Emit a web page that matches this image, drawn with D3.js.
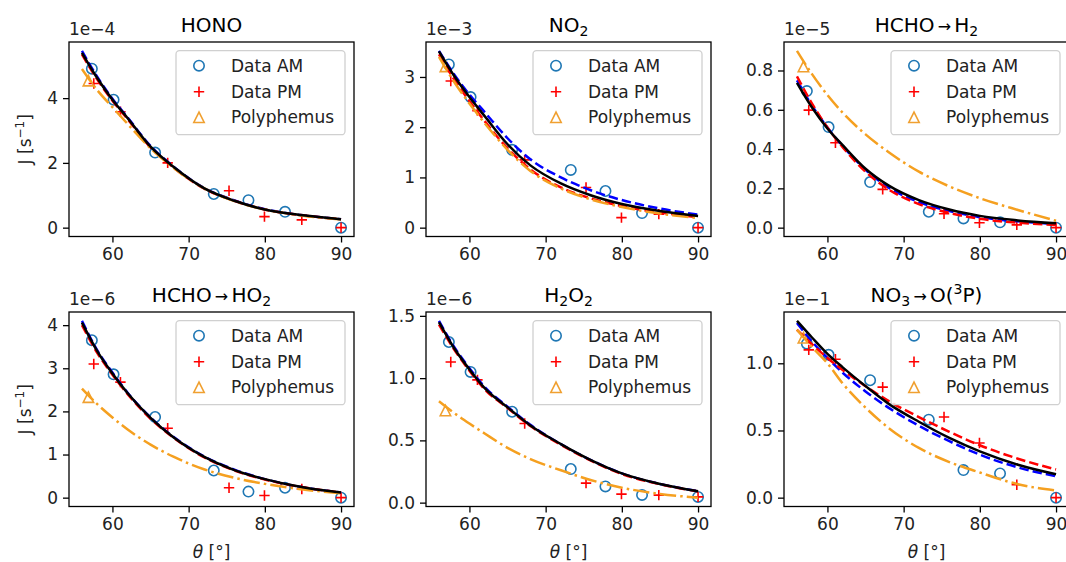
<!DOCTYPE html>
<html><head><meta charset="utf-8">
<script src="https://cdn.jsdelivr.net/npm/d3@7"></script>
<style>
body{margin:0;background:#fff;}
svg{display:block;font-family:"DejaVu Sans",sans-serif;}
</style></head><body>
<svg id="c" width="1066" height="562"></svg>
<script>
// ---------- data ----------
const xAM = [57.3, 60.15, 65.6, 73.3, 77.85, 82.65, 90];
const xPM = [57.55, 61.05, 67.25, 75.3, 79.95, 84.85, 90];
const xPoly = [56.85];
const xFit = [56, 58, 60, 62, 65, 68, 72, 76, 80, 85, 90];

const titles = ["HONO", "NO2", "HCHO→H2", "HCHO→HO2", "H2O2", "NO3→O(3P)"];
const offsets = ["1e−4", "1e−3", "1e−5", "1e−6", "1e−6", "1e−1"];
const yTicks = [
  [0, 2, 4],
  [0, 1, 2, 3],
  [0.0, 0.2, 0.4, 0.6, 0.8],
  [0, 1, 2, 3, 4],
  [0.0, 0.5, 1.0, 1.5],
  [0.0, 0.5, 1.0]
];
const yTickDigits = [0, 0, 1, 0, 1, 1];
const xTicks = [60, 70, 80, 90];

const dataAM = [
  [4.91, 3.95, 2.32, 1.04, 0.85, 0.49, 0],
  [3.25, 2.6, 1.55, 1.15, 0.73, 0.29, 0],
  [0.695, 0.512, 0.232, 0.081, 0.047, 0.027, 0],
  [3.65, 2.86, 1.87, 0.63, 0.14, 0.23, 0],
  [1.29, 1.05, 0.73, 0.27, 0.13, 0.062, 0.046],
  [1.146, 1.063, 0.874, 0.58, 0.205, 0.18, 0]
];
const dataPM = [
  [4.45, 3.58, 2.0, 1.14, 0.34, 0.24, 0],
  [2.92, 2.33, 1.35, 0.8, 0.2, 0.27, 0],
  [0.598, 0.432, 0.195, 0.071, 0.025, 0.014, 0],
  [3.1, 2.68, 1.61, 0.23, 0.05, 0.2, 0],
  [1.13, 0.986, 0.635, 0.157, 0.068, 0.06, 0.046],
  [1.10, 1.03, 0.823, 0.60, 0.407, 0.096, 0]
];
const dataPoly = [[4.54], [3.21], [0.82], [2.33], [0.74], [1.19]];

const fitAM = [
  [5.46, 4.66, 3.98, 3.4, 2.52, 1.89, 1.23, 0.84, 0.57, 0.38, 0.26],
  [3.52, 3.05, 2.65, 2.3, 1.78, 1.36, 1.0, 0.74, 0.55, 0.38, 0.26],
  [0.75, 0.62, 0.51, 0.415, 0.295, 0.205, 0.13, 0.085, 0.053, 0.032, 0.019],
  [4.1, 3.42, 2.9, 2.43, 1.86, 1.41, 0.96, 0.65, 0.43, 0.24, 0.12],
  [1.46, 1.25, 1.08, 0.93, 0.77, 0.625, 0.47, 0.34, 0.235, 0.15, 0.092],
  [1.30, 1.16, 1.04, 0.93, 0.79, 0.67, 0.535, 0.42, 0.32, 0.225, 0.16]
];
const fitPM = [
  [5.35, 4.58, 3.92, 3.35, 2.48, 1.86, 1.21, 0.83, 0.56, 0.38, 0.26],
  [3.45, 2.95, 2.52, 2.12, 1.58, 1.16, 0.80, 0.58, 0.43, 0.3, 0.21],
  [0.77, 0.63, 0.51, 0.41, 0.285, 0.195, 0.12, 0.075, 0.045, 0.025, 0.014],
  [4.0, 3.36, 2.85, 2.4, 1.83, 1.39, 0.94, 0.63, 0.42, 0.24, 0.12],
  [1.43, 1.23, 1.06, 0.91, 0.76, 0.615, 0.465, 0.335, 0.23, 0.148, 0.09],
  [1.25, 1.14, 1.04, 0.95, 0.83, 0.72, 0.6, 0.49, 0.39, 0.29, 0.21]
];
const fitPoly = [
  [4.9, 4.25, 3.72, 3.2, 2.45, 1.85, 1.22, 0.82, 0.56, 0.37, 0.25],
  [3.4, 2.9, 2.47, 2.08, 1.55, 1.13, 0.78, 0.56, 0.41, 0.28, 0.19],
  [0.90, 0.78, 0.675, 0.585, 0.475, 0.385, 0.285, 0.21, 0.15, 0.09, 0.035],
  [2.53, 2.17, 1.86, 1.58, 1.23, 0.95, 0.66, 0.46, 0.32, 0.19, 0.1],
  [0.815, 0.72, 0.635, 0.555, 0.44, 0.35, 0.26, 0.18, 0.12, 0.07, 0.04],
  [1.25, 1.12, 1.0, 0.85, 0.67, 0.52, 0.37, 0.265, 0.187, 0.10, 0.053]
];
const fitAll = [
  [5.40, 4.62, 3.95, 3.38, 2.5, 1.88, 1.22, 0.83, 0.56, 0.38, 0.26],
  [3.51, 3.02, 2.6, 2.22, 1.66, 1.24, 0.88, 0.64, 0.47, 0.33, 0.23],
  [0.737, 0.61, 0.505, 0.42, 0.30, 0.215, 0.14, 0.092, 0.06, 0.037, 0.022],
  [4.06, 3.4, 2.88, 2.42, 1.85, 1.4, 0.95, 0.64, 0.43, 0.24, 0.12],
  [1.45, 1.24, 1.07, 0.92, 0.765, 0.62, 0.47, 0.34, 0.235, 0.15, 0.092],
  [1.316, 1.19, 1.07, 0.97, 0.83, 0.70, 0.565, 0.445, 0.345, 0.245, 0.174]
];
const legendLabels = ["Data AM", "Data PM", "Polyphemus"];

// ---------- layout ----------
const colLeft = [69, 426, 784];
const rowTop = [42, 312];
const W = 285, H = 194.5;
const FS = 17;
const cBlue = "#1f77b4", cRed = "#ff0000", cOrange = "#f5a020", cTri = "#f0a030";

const svg = d3.select("#c");

function drawTitle(g, t, cx, y) {
  const txt = g.append("text").attr("x", cx).attr("y", y).attr("text-anchor", "middle")
    .attr("font-size", 20).attr("fill", "#000");
  const specs = {
    "HONO": [["HONO", 0]],
    "NO2": [["NO", 0], ["2", -1]],
    "HCHO→H2": [["HCHO", 0], ["\u2009→\u2009", 0], ["H", 0], ["2", -1]],
    "HCHO→HO2": [["HCHO", 0], ["\u2009→\u2009", 0], ["HO", 0], ["2", -1]],
    "H2O2": [["H", 0], ["2", -1], ["O", 0], ["2", -1]],
    "NO3→O(3P)": [["NO", 0], ["3", -1], ["\u2009→\u2009", 0], ["O(", 0], ["3", 1], ["P)", 0]]
  }[t];
  let cur = 0;
  specs.forEach(p => {
    const shift = p[1] === -1 ? 4 : p[1] === 1 ? -8 : 0;
    const ts = txt.append("tspan").text(p[0]).attr("dy", shift - cur);
    cur = shift;
    if (p[1] !== 0) ts.attr("font-size", 14);
    if (p[0].includes("→")) ts.attr("font-size", 16);
  });
}

for (let i = 0; i < 6; i++) {
  const col = i % 3, row = Math.floor(i / 3);
  const L = colLeft[col], T = rowTop[row];
  const g = svg.append("g");

  const allY = [].concat(dataAM[i], dataPM[i], dataPoly[i], fitAM[i], fitPM[i], fitPoly[i], fitAll[i]);
  const yMin = d3.min(allY), yMax = d3.max(allY);
  const yPad = (yMax - yMin) * 0.05;
  const xMin = 56, xMax = 90, xPad = (xMax - xMin) * 0.05;

  const x = d3.scaleLinear().domain([xMin - xPad, xMax + xPad]).range([L, L + W]);
  const y = d3.scaleLinear().domain([yMin - yPad, yMax + yPad]).range([T + H, T]);

  const clipId = "clip" + i;
  svg.append("clipPath").attr("id", clipId).append("rect")
    .attr("x", L).attr("y", T).attr("width", W).attr("height", H);

  // axes
  const xAxis = d3.axisBottom(x).tickValues(xTicks).tickSize(6).tickPadding(5).tickFormat(d3.format("d"));
  const gx = g.append("g").attr("transform", `translate(0,${T + H})`).call(xAxis);
  const yAxis = d3.axisLeft(y).tickValues(yTicks[i]).tickSize(6).tickPadding(5)
    .tickFormat(d3.format("." + yTickDigits[i] + "f"));
  const gy = g.append("g").attr("transform", `translate(${L},0)`).call(yAxis);
  [gx, gy].forEach(a => {
    a.select(".domain").remove();
    a.selectAll("line").attr("stroke", "#000").attr("stroke-width", 1.3);
    a.selectAll("text").attr("font-size", FS).attr("fill", "#222").attr("font-family", "DejaVu Sans");
  });

  const plot = g.append("g").attr("clip-path", `url(#${clipId})`);

  // markers
  plot.selectAll(".am").data(xAM.map((v, k) => [v, dataAM[i][k]])).enter().append("circle")
    .attr("cx", d => x(d[0])).attr("cy", d => y(d[1])).attr("r", 5.2)
    .attr("fill", "none").attr("stroke", cBlue).attr("stroke-width", 1.6);
  plot.selectAll(".pm").data(xPM.map((v, k) => [v, dataPM[i][k]])).enter().append("path")
    .attr("transform", d => `translate(${x(d[0])},${y(d[1])})`)
    .attr("d", "M-5.2,0H5.2M0,-5.2V5.2").attr("stroke", cRed).attr("stroke-width", 1.6).attr("fill", "none");
  plot.selectAll(".poly").data(xPoly.map((v, k) => [v, dataPoly[i][k]])).enter().append("path")
    .attr("transform", d => `translate(${x(d[0])},${y(d[1])})`)
    .attr("d", "M0,-5.2L-5.2,5.2L5.2,5.2Z").attr("stroke", cTri).attr("stroke-width", 1.6).attr("fill", "none");

  // lines
  const line = d3.line().x(d => x(d[0])).y(d => y(d[1])).curve(d3.curveMonotoneX);
  const mk = arr => xFit.map((v, k) => [v, arr[k]]);
  plot.append("path").attr("d", line(mk(fitAM[i]))).attr("fill", "none")
    .attr("stroke", "#0000ff").attr("stroke-width", 2.5).attr("stroke-dasharray", "9.4,4.1");
  plot.append("path").attr("d", line(mk(fitPM[i]))).attr("fill", "none")
    .attr("stroke", "#ff0000").attr("stroke-width", 2.5).attr("stroke-dasharray", "9.4,4.1");
  plot.append("path").attr("d", line(mk(fitPoly[i]))).attr("fill", "none")
    .attr("stroke", cOrange).attr("stroke-width", 2.5).attr("stroke-dasharray", "16.3,4.1,2.5,4.1");
  plot.append("path").attr("d", line(mk(fitAll[i]))).attr("fill", "none")
    .attr("stroke", "#000").attr("stroke-width", 2.5);

  // frame
  g.append("rect").attr("x", L).attr("y", T).attr("width", W).attr("height", H)
    .attr("fill", "none").attr("stroke", "#000").attr("stroke-width", 1.3);

  // legend
  const lx = L + W - 9 - 169, ly = T + 8.7;
  const lg = g.append("g");
  lg.append("rect").attr("x", lx).attr("y", ly).attr("width", 169).attr("height", 84).attr("rx", 3.5)
    .attr("fill", "#fff").attr("fill-opacity", 0.8).attr("stroke", "#d0d0d0").attr("stroke-width", 1.3);
  const rowsY = [ly + 15, ly + 41, ly + 66.6];
  lg.append("circle").attr("cx", lx + 23).attr("cy", rowsY[0]).attr("r", 5.2)
    .attr("fill", "none").attr("stroke", cBlue).attr("stroke-width", 1.6);
  lg.append("path").attr("transform", `translate(${lx + 23},${rowsY[1]})`)
    .attr("d", "M-5.2,0H5.2M0,-5.2V5.2").attr("stroke", cRed).attr("stroke-width", 1.6);
  lg.append("path").attr("transform", `translate(${lx + 23},${rowsY[2]})`)
    .attr("d", "M0,-5.2L-5.2,5.2L5.2,5.2Z").attr("stroke", cTri).attr("stroke-width", 1.6).attr("fill", "none");
  legendLabels.forEach((lab, k) => {
    lg.append("text").attr("x", lx + 55).attr("y", rowsY[k] + 6).attr("font-size", FS)
      .attr("fill", "#222").text(lab);
  });

  // offset text
  g.append("text").attr("x", L).attr("y", T - 7).attr("font-size", FS).attr("fill", "#222").text(offsets[i]);

  // title
  drawTitle(g, titles[i], L + W / 2, T - 10);

  // axis labels
  if (col === 0) {
    const yl = g.append("text").attr("transform", `translate(31,${T + H / 2}) rotate(-90)`)
      .attr("text-anchor", "middle").attr("font-size", FS).attr("fill", "#222");
    yl.append("tspan").text("J [s");
    yl.append("tspan").text("−1").attr("font-size", 12).attr("dy", -7);
    yl.append("tspan").text("]").attr("dy", 7);
  }
  if (row === 1) {
    const xl = g.append("text").attr("x", L + W / 2).attr("y", 558).attr("text-anchor", "middle")
      .attr("font-size", FS).attr("fill", "#222");
    xl.append("tspan").text("θ").attr("font-style", "italic");
    xl.append("tspan").text(" [°]");
  }
}
</script>
</body></html>
